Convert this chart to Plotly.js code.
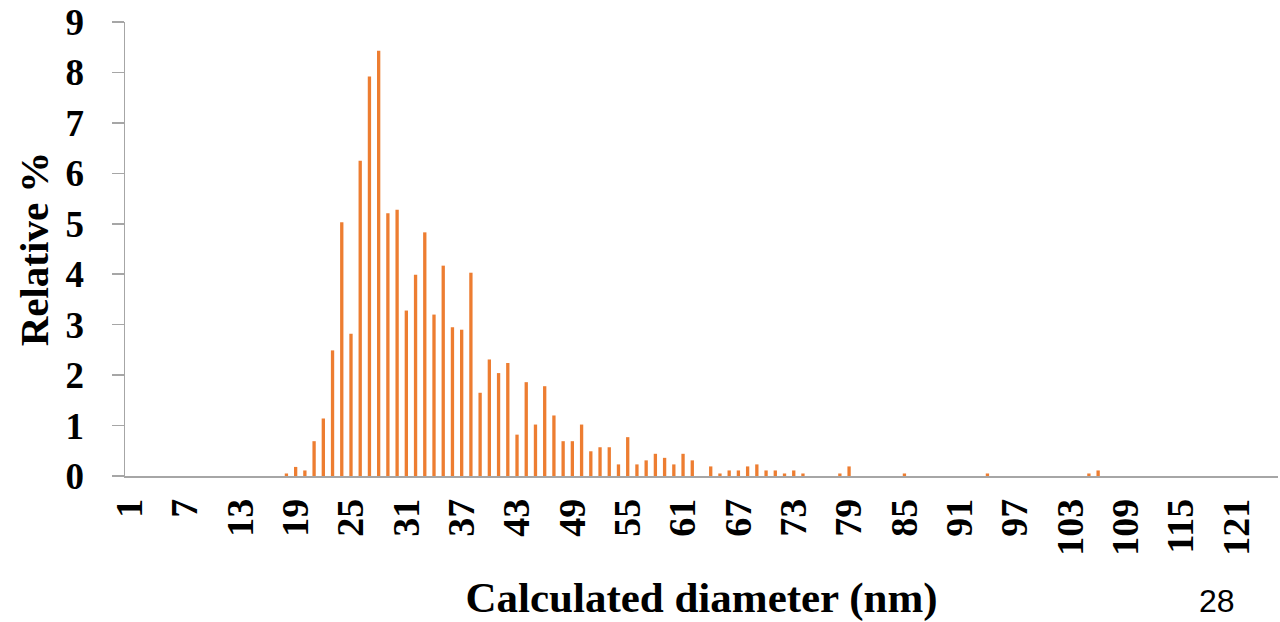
<!DOCTYPE html>
<html>
<head>
<meta charset="utf-8">
<script src="https://cdn.plot.ly/plotly-3.0.1.min.js"></script>
<style>
  html, body { margin: 0; padding: 0; background: #ffffff; }
  #chart { width: 1280px; height: 622px; }
</style>
</head>
<body>
<div id="chart"></div>
<script>
// Calculated diameter categories (nm)
const diameters = [
  1, 2, 3, 4, 5, 6, 7, 8, 9, 10,
  11, 12, 13, 14, 15, 16, 17, 18, 19, 20,
  21, 22, 23, 24, 25, 26, 27, 28, 29, 30,
  31, 32, 33, 34, 35, 36, 37, 38, 39, 40,
  41, 42, 43, 44, 45, 46, 47, 48, 49, 50,
  51, 52, 53, 54, 55, 56, 57, 58, 59, 60,
  61, 62, 63, 64, 65, 66, 67, 68, 69, 70,
  71, 72, 73, 74, 75, 76, 77, 78, 79, 80,
  81, 82, 83, 84, 85, 86, 87, 88, 89, 90,
  91, 92, 93, 94, 95, 96, 97, 98, 99, 100,
  101, 102, 103, 104, 105, 106, 107, 108, 109, 110,
  111, 112, 113, 114, 115, 116, 117, 118, 119, 120,
  121, 122, 123, 124, 125
];

// Relative % for each diameter
const relativePct = [
  0, 0, 0, 0, 0, 0, 0, 0, 0, 0,
  0, 0, 0, 0, 0, 0, 0, 0.05, 0.18, 0.11,
  0.69, 1.14, 2.49, 5.03, 2.82, 6.25, 7.92, 8.43, 5.21, 5.28,
  3.28, 3.99, 4.83, 3.20, 4.17, 2.95, 2.90, 4.03, 1.65, 2.31,
  2.04, 2.24, 0.82, 1.86, 1.02, 1.78, 1.20, 0.69, 0.69, 1.02,
  0.49, 0.57, 0.57, 0.23, 0.77, 0.23, 0.31, 0.44, 0.36, 0.23,
  0.44, 0.31, 0, 0.19, 0.05, 0.11, 0.11, 0.19, 0.23, 0.11,
  0.11, 0.05, 0.11, 0.05, 0, 0, 0, 0.05, 0.19, 0,
  0, 0, 0, 0, 0.05, 0, 0, 0, 0, 0,
  0, 0, 0, 0.05, 0, 0, 0, 0, 0, 0,
  0, 0, 0, 0, 0.05, 0.11, 0, 0, 0, 0,
  0, 0, 0, 0, 0, 0, 0, 0, 0, 0,
  0, 0, 0, 0, 0
];

const xTickVals = [1, 7, 13, 19, 25, 31, 37, 43, 49, 55, 61, 67, 73, 79, 85, 91, 97, 103, 109, 115, 121];
const xTickText = ["1", "7", "13", "19", "25", "31", "37", "43", "49", "55", "61", "67", "73", "79", "85", "91", "97", "103", "109", "115", "121"];
const yTickVals = [0, 1, 2, 3, 4, 5, 6, 7, 8, 9];

const serif = "Liberation Serif, Times New Roman, serif";
const axisGrey = "#A6A6A6";

const trace = {
  type: "bar",
  x: diameters,
  y: relativePct,
  marker: { color: "#ED7D31", line: { width: 0 } },
  width: 0.36,
  hoverinfo: "x+y"
};

const layout = {
  width: 1280,
  height: 622,
  margin: { l: 125, r: 2, t: 22, b: 146, pad: 0 },
  paper_bgcolor: "#ffffff",
  plot_bgcolor: "#ffffff",
  showlegend: false,
  font: { family: serif, color: "#000000" },
  xaxis: {
    type: "linear",
    range: [0.5, 125.5],
    tickmode: "array",
    tickvals: xTickVals,
    ticktext: xTickText,
    tickangle: -90,
    ticks: "",
    showgrid: false,
    zeroline: false,
    showline: true,
    linecolor: axisGrey,
    linewidth: 1.5,
    tickfont: { family: serif, size: 38, color: "#000000", weight: "bold" },
    ticklabelstandoff: 6,
    title: {
      text: "<b>Calculated diameter (nm)</b>",
      font: { family: serif, size: 43, color: "#000000" },
      standoff: 30
    },
    fixedrange: true
  },
  yaxis: {
    range: [0, 9],
    tickmode: "array",
    tickvals: yTickVals,
    ticks: "outside",
    ticklen: 12,
    tickwidth: 1.5,
    tickcolor: axisGrey,
    showgrid: false,
    zeroline: false,
    showline: true,
    linecolor: axisGrey,
    linewidth: 1.5,
    tickfont: { family: serif, size: 37, color: "#000000", weight: "bold" },
    ticklabelstandoff: 20,
    title: {
      text: "<b>Relative %</b>",
      font: { family: serif, size: 41, color: "#000000" },
      standoff: 4
    },
    fixedrange: true
  },
  annotations: [
    {
      text: "28",
      xref: "paper", yref: "paper",
      x: 0.947, y: -0.3185,
      xanchor: "center", yanchor: "bottom",
      showarrow: false,
      font: { family: "Liberation Sans, Arial, sans-serif", size: 32, color: "#000000" }
    }
  ]
};

Plotly.newPlot("chart", [trace], layout, { displayModeBar: false, staticPlot: true });
</script>
</body>
</html>
